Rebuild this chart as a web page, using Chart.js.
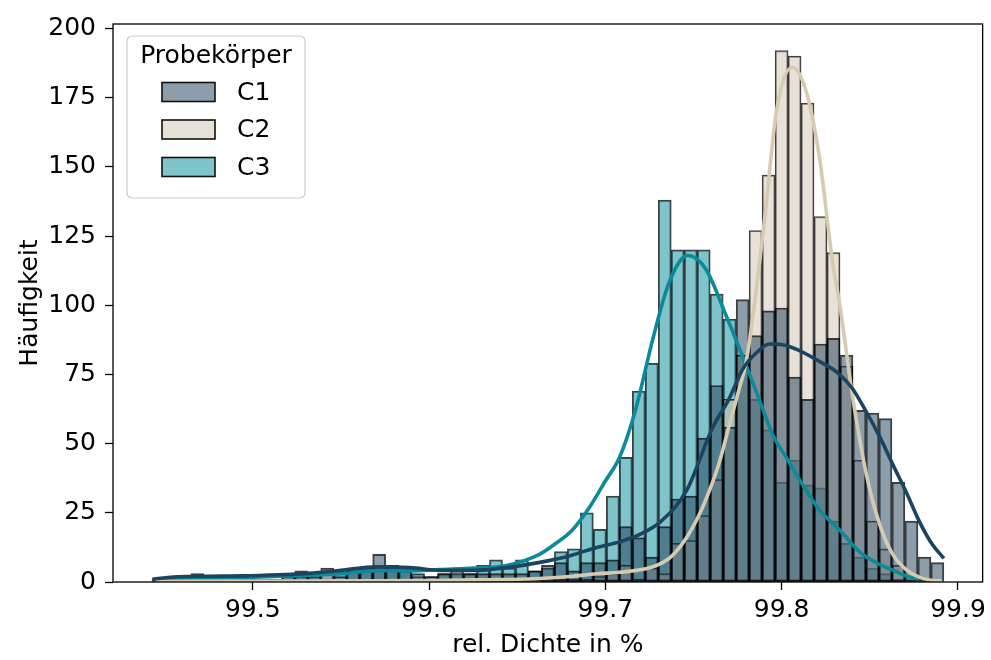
<!DOCTYPE html>
<html>
<head>
<meta charset="utf-8">
<script src="https://cdn.jsdelivr.net/npm/chart.js@4/dist/chart.umd.min.js"></script>
<style>
  html, body { margin: 0; padding: 0; background: #fff; }
  #wrap { width: 991px; height: 660px; }
</style>
</head>
<body>
<div id="wrap"><canvas id="c" width="991" height="660"></canvas></div>
<script>
// Histogram bins shared by all three specimens
const BIN_START = 99.4428;
const BIN_WIDTH = 0.007364;
const seriesNames = ['C1', 'C2', 'C3'];
const xTickValues = [99.5, 99.6, 99.7, 99.8, 99.9];
const yTickValues = [0, 25, 50, 75, 100, 125, 150, 175, 200];

// Counts per bin (61 bins)
const countsC1 = [
  1, 1, 1, 3, 1, 1, 1, 1, 1, 1,
  3, 4, 2, 5, 2, 5, 5, 10, 6, 5,
  3, 2, 3, 5, 3, 3, 3, 3, 3, 4,
  6, 7, 4, 7, 7, 8, 20, 16, 9, 20,
  30, 31, 52, 71, 56, 102, 89, 98, 99, 74,
  66, 86, 88, 82, 62, 61, 59, 36, 22, 9,
  7
];
const countsC2 = [
  0, 0, 0, 0, 0, 1, 0, 0, 0, 0,
  0, 0, 1, 0, 0, 0, 0, 1, 0, 0,
  0, 1, 0, 0, 0, 1, 0, 0, 1, 0,
  1, 1, 1, 1, 2, 3, 6, 1, 5, 3,
  14, 15, 24, 37, 66, 82, 127, 147, 192, 190,
  173, 132, 119, 78, 44, 22, 12, 6, 2, 1,
  0
];
const countsC3 = [
  0, 1, 1, 1, 1, 1, 1, 1, 0, 1,
  2, 2, 3, 1, 3, 4, 5, 5, 5, 4,
  2, 2, 3, 3, 3, 6, 8, 5, 8, 4,
  5, 11, 12, 25, 19, 31, 45, 69, 79, 138,
  120, 120, 120, 104, 95, 82, 66, 55, 36, 44,
  35, 34, 22, 14, 9, 5, 3, 1, 0, 0,
  0
];

// Kernel density estimates (scaled to counts)
const kdeXC1 = [99.443, 99.457, 99.475, 99.494, 99.515, 99.532, 99.55, 99.570, 99.589, 99.608,
  99.625, 99.644, 99.662, 99.681, 99.695, 99.708, 99.719, 99.731, 99.746, 99.761,
  99.770, 99.778, 99.786, 99.793, 99.802, 99.812, 99.822, 99.832, 99.840, 99.848,
  99.856, 99.863, 99.871, 99.878, 99.885, 99.892];
const kdeYC1 = [1.0, 1.9, 2.1, 2.2, 2.6, 3.1, 4.2, 5.5, 5.2, 4.2,
  4.2, 5.2, 7, 9.7, 12.5, 14.5, 17, 21.6, 33, 56,
  66, 77, 83, 86, 85.5, 83, 79.5, 75.5, 70, 61.5,
  52, 42.5, 32, 22, 14, 8.5];

const kdeXC2 = [99.445, 99.5, 99.55, 99.6, 99.63, 99.66, 99.68, 99.695, 99.708, 99.727,
  99.737, 99.746, 99.753, 99.759, 99.765, 99.770, 99.776, 99.780, 99.787, 99.791,
  99.797, 99.806, 99.814, 99.8215, 99.829, 99.833, 99.840, 99.848, 99.856, 99.863,
  99.871, 99.880, 99.891];
const kdeYC2 = [0.2, 0.3, 0.4, 0.5, 0.8, 1.2, 2, 3, 3.5, 5.5,
  9, 16, 24, 33, 44, 56, 70, 80, 113, 135,
  170, 186, 177, 153, 115, 100, 68, 39, 20, 10,
  4.3, 1.3, 0.3];

const kdeXC3 = [99.443, 99.46, 99.49, 99.52, 99.55, 99.572, 99.59, 99.606, 99.625, 99.644,
  99.6626, 99.672, 99.681, 99.691, 99.700, 99.708, 99.717, 99.727, 99.736, 99.7466,
  99.757, 99.768, 99.780, 99.789, 99.795, 99.8026, 99.812, 99.8215, 99.8326, 99.844,
  99.855, 99.863, 99.870, 99.878];
const kdeYC3 = [0.5, 1, 1.5, 2.2, 3, 4.2, 4, 4.5, 5, 6,
  10, 14, 18.6, 27, 36.5, 45, 62, 88, 108, 118,
  113, 97, 78, 63, 53, 45, 35, 26, 19, 11,
  6.5, 4.3, 2.3, 1];

// Colours
const fillColors = ['rgba(27,59,85,0.5)', 'rgba(207,195,175,0.5)', 'rgba(0,135,152,0.5)'];
const lineColors = ['#1b4460', '#d6cab0', '#0b8a9c'];
const edgeColor = 'rgba(0,0,0,0.75)';
const FONT = '"DejaVu Sans", sans-serif';
const FS = 25;

function binPoints(counts) {
  return counts.map((c, i) => ({ x: BIN_START + BIN_WIDTH * (i + 0.5), y: c }));
}
function kdePoints(xs, ys) {
  return xs.map((x, i) => ({ x: x, y: ys[i] }));
}

function barSet(idx, counts, order) {
  return {
    type: 'bar',
    label: seriesNames[idx],
    data: binPoints(counts),
    backgroundColor: fillColors[idx],
    borderColor: edgeColor,
    borderWidth: 1.3,
    borderSkipped: false,
    grouped: false,
    barPercentage: 1,
    categoryPercentage: 1,
    order: order
  };
}
function lineSet(idx, xs, ys) {
  return {
    type: 'line',
    label: seriesNames[idx] + ' KDE',
    data: kdePoints(xs, ys),
    borderColor: lineColors[idx],
    borderWidth: 3.6,
    pointRadius: 0,
    fill: false,
    cubicInterpolationMode: 'monotone',
    order: 0
  };
}

// Axes frame on all four sides
const framePlugin = {
  id: 'frame',
  afterDatasetsDraw(chart) {
    const { ctx, chartArea: a } = chart;
    ctx.save();
    ctx.strokeStyle = '#000';
    ctx.lineWidth = 1.3;
    ctx.strokeRect(a.left, a.top, a.right - a.left, a.bottom - a.top);
    ctx.restore();
  }
};

// Legend box with title, top-left inside the axes
const legendPlugin = {
  id: 'boxLegend',
  afterDraw(chart) {
    const { ctx, chartArea: a } = chart;
    const x0 = a.left + 14, y0 = a.top + 12, w = 178, h = 162, r = 5;
    ctx.save();
    ctx.beginPath();
    ctx.moveTo(x0 + r, y0);
    ctx.arcTo(x0 + w, y0, x0 + w, y0 + h, r);
    ctx.arcTo(x0 + w, y0 + h, x0, y0 + h, r);
    ctx.arcTo(x0, y0 + h, x0, y0, r);
    ctx.arcTo(x0, y0, x0 + w, y0, r);
    ctx.closePath();
    ctx.fillStyle = 'rgba(255,255,255,0.8)';
    ctx.fill();
    ctx.strokeStyle = '#cccccc';
    ctx.lineWidth = 1.2;
    ctx.stroke();

    ctx.fillStyle = '#000';
    ctx.font = FS + 'px ' + FONT;
    ctx.textAlign = 'center';
    ctx.textBaseline = 'middle';
    ctx.fillText('Probekörper', x0 + w / 2, y0 + 20);

    ctx.textAlign = 'left';
    seriesNames.forEach((name, i) => {
      const cy = y0 + 56 + i * 37.5;
      const sx = x0 + 35, sw = 53, sh = 19;
      ctx.fillStyle = '#fff';
      ctx.fillRect(sx, cy - sh / 2, sw, sh);
      ctx.fillStyle = fillColors[i];
      ctx.fillRect(sx, cy - sh / 2, sw, sh);
      ctx.strokeStyle = '#111';
      ctx.lineWidth = 1.6;
      ctx.strokeRect(sx, cy - sh / 2, sw, sh);
      ctx.fillStyle = '#000';
      ctx.fillText(name, x0 + 110, cy + 1);
    });
    ctx.restore();
  }
};

new Chart(document.getElementById('c'), {
  data: {
    datasets: [
      barSet(0, countsC1, 1),
      barSet(1, countsC2, 2),
      barSet(2, countsC3, 3),
      lineSet(0, kdeXC1, kdeYC1),
      lineSet(1, kdeXC2, kdeYC2),
      lineSet(2, kdeXC3, kdeYC3)
    ]
  },
  options: {
    responsive: false,
    animation: false,
    devicePixelRatio: 1,
    layout: { padding: { top: 18, right: 7, left: 0, bottom: 0 } },
    plugins: { legend: { display: false }, tooltip: { enabled: false } },
    scales: {
      x: {
        type: 'linear',
        offset: false,
        min: 99.4207,
        max: 99.914,
        afterBuildTicks: s => { s.ticks = xTickValues.map(v => ({ value: v })); },
        afterFit: s => { s.height = 78; },
        ticks: {
          color: '#000', font: { family: FONT, size: FS }, padding: 5,
          maxRotation: 0, autoSkip: false,
          callback: v => Number(v).toFixed(1)
        },
        grid: { display: true, offset: false, drawOnChartArea: false, drawTicks: true, tickLength: 8, tickColor: '#000', tickWidth: 1.3 },
        border: { display: false },
        title: { display: true, text: 'rel. Dichte in %', color: '#000', font: { family: FONT, size: FS }, padding: { top: 4, bottom: 0 } }
      },
      y: {
        type: 'linear',
        offset: false,
        min: 0,
        max: 201.6,
        afterBuildTicks: s => { s.ticks = yTickValues.map(v => ({ value: v })); },
        afterFit: s => { s.width = 113; },
        ticks: { color: '#000', font: { family: FONT, size: FS }, padding: 9, autoSkip: false },
        grid: { display: true, offset: false, drawOnChartArea: false, drawTicks: true, tickLength: 8, tickColor: '#000', tickWidth: 1.3 },
        border: { display: false },
        title: { display: true, text: 'Häufigkeit', color: '#000', font: { family: FONT, size: FS }, padding: { top: 15, bottom: 4 } }
      }
    }
  },
  plugins: [framePlugin, legendPlugin]
});
</script>
</body>
</html>
